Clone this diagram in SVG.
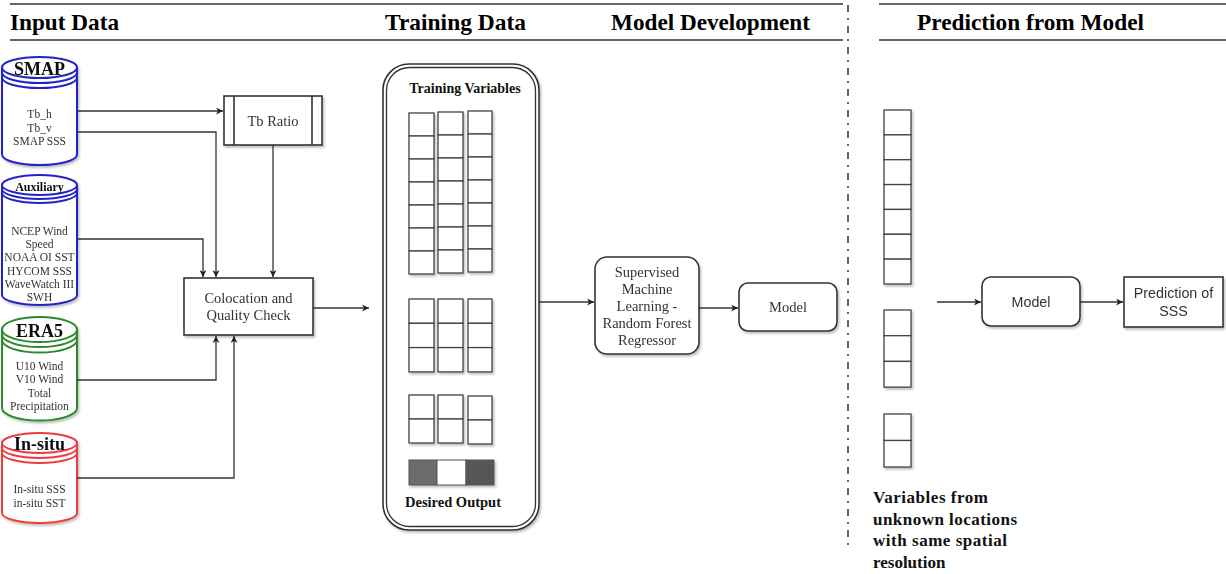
<svg xmlns="http://www.w3.org/2000/svg" width="1226" height="574" viewBox="0 0 1226 574">
<style>
.hdr{font-family:"Liberation Serif",serif;font-weight:bold;font-size:24px;fill:#000}
.cyl{fill:#fff;stroke-width:2}
.blue{stroke:#2323c8}
.green{stroke:#2b8a2b}
.red{stroke:#ef3b3b}
.arc{fill:none;stroke-width:2}
.ct{font-family:"Liberation Serif",serif;font-weight:bold;fill:#111;text-anchor:middle}
.bt{font-family:"Liberation Serif",serif;font-size:11.5px;fill:#333;text-anchor:middle}
.box{fill:#fff;stroke:#333;stroke-width:1.6}
.lbl{font-family:"Liberation Serif",serif;font-size:14.5px;fill:#333;text-anchor:middle}
.sans{font-family:"Liberation Sans",sans-serif;font-size:14.3px;fill:#333;text-anchor:middle}
.cell{fill:#fff;stroke:#444;stroke-width:1.3}
.conn{fill:none;stroke:#333;stroke-width:1.3}
.rule{stroke:#333;stroke-width:1.5}
.note{font-family:"Liberation Serif",serif;font-weight:bold;font-size:17px;fill:#111}
</style>
<defs>
<marker id="arr" viewBox="0 0 10 10" refX="10" refY="5" markerWidth="7" markerHeight="7" markerUnits="userSpaceOnUse" orient="auto">
<path d="M0,0 L10,5 L0,10 L3,5 Z" fill="#222"/>
</marker>
<filter id="sh" x="-10%" y="-10%" width="130%" height="130%">
<feDropShadow dx="1.5" dy="2" stdDeviation="1.2" flood-color="#000" flood-opacity="0.25"/>
</filter>
</defs>

<g id="headers">
<line class="rule" x1="10" y1="4" x2="843" y2="4"/>
<line class="rule" x1="10" y1="40" x2="843" y2="40"/>
<line class="rule" x1="879" y1="4" x2="1226" y2="4"/>
<line class="rule" x1="879" y1="40" x2="1226" y2="40"/>
<text class="hdr" x="10" y="30" textLength="109" lengthAdjust="spacingAndGlyphs">Input Data</text>
<text class="hdr" x="385" y="30" textLength="141" lengthAdjust="spacingAndGlyphs">Training Data</text>
<text class="hdr" x="611" y="30" textLength="199" lengthAdjust="spacingAndGlyphs">Model Development</text>
<text class="hdr" x="917" y="30" textLength="227" lengthAdjust="spacingAndGlyphs">Prediction from Model</text>
<line x1="848" y1="5" x2="848" y2="550" stroke="#333" stroke-width="1.5" stroke-dasharray="7 6 2 6"/>
</g>

<g id="smap" filter="url(#sh)">
<path class="cyl blue" d="M2,67.5 A37.5,10.5 0 0 1 77,67.5 V154.5 A37.5,10.5 0 0 1 2,154.5 Z"/>
<path class="arc blue" d="M2,67.5 A37.5,10.5 0 0 0 77,67.5 M2,72.5 A37.5,10.5 0 0 0 77,72.5 M2,77.5 A37.5,10.5 0 0 0 77,77.5"/>
<text class="ct" x="39.5" y="75" font-size="18">SMAP</text>
<text class="bt" x="39.5" y="118">Tb_h</text>
<text class="bt" x="39.5" y="131.5">Tb_v</text>
<text class="bt" x="39.5" y="145">SMAP SSS</text>
</g>

<g id="auxiliary" filter="url(#sh)">
<path class="cyl blue" d="M2,185 A37.5,10 0 0 1 77,185 V295 A37.5,10 0 0 1 2,295 Z"/>
<path class="arc blue" d="M2,185 A37.5,10 0 0 0 77,185 M2,189 A37.5,10 0 0 0 77,189 M2,193 A37.5,10 0 0 0 77,193"/>
<text class="ct" x="39.5" y="191" font-size="12">Auxiliary</text>
<text class="bt" x="39.5" y="235">NCEP Wind</text>
<text class="bt" x="39.5" y="248.2">Speed</text>
<text class="bt" x="39.5" y="261.4">NOAA OI SST</text>
<text class="bt" x="39.5" y="274.6">HYCOM SSS</text>
<text class="bt" x="39.5" y="287.8">WaveWatch III</text>
<text class="bt" x="39.5" y="301">SWH</text>
</g>

<g id="era5" filter="url(#sh)">
<path class="cyl green" d="M2,329.5 A37.5,12.5 0 0 1 77,329.5 V408 A37.5,12.5 0 0 1 2,408 Z"/>
<path class="arc green" d="M2,329.5 A37.5,12.5 0 0 0 77,329.5 M2,334.5 A37.5,12.5 0 0 0 77,334.5 M2,340 A37.5,12.5 0 0 0 77,340"/>
<text class="ct" x="39.5" y="337" font-size="18">ERA5</text>
<text class="bt" x="39.5" y="370">U10 Wind</text>
<text class="bt" x="39.5" y="383.3">V10 Wind</text>
<text class="bt" x="39.5" y="396.7">Total</text>
<text class="bt" x="39.5" y="410">Precipitation</text>
</g>

<g id="insitu" filter="url(#sh)">
<path class="cyl red" d="M2,443 A37.5,10 0 0 1 77,443 V513 A37.5,10 0 0 1 2,513 Z"/>
<path class="arc red" d="M2,443 A37.5,10 0 0 0 77,443 M2,448 A37.5,10 0 0 0 77,448 M2,453 A37.5,10 0 0 0 77,453"/>
<text class="ct" x="39.5" y="450" font-size="18">In-situ</text>
<text class="bt" x="39.5" y="493">In-situ SSS</text>
<text class="bt" x="39.5" y="507">in-situ SST</text>
</g>

<g id="tbratio" filter="url(#sh)">
<rect class="box" x="224" y="96" width="98" height="49"/>
<line class="box" x1="234" y1="96" x2="234" y2="145"/>
<line class="box" x1="312" y1="96" x2="312" y2="145"/>
<text class="lbl" x="273" y="126">Tb Ratio</text>
</g>

<g id="colocation" filter="url(#sh)">
<rect class="box" x="184" y="278" width="129" height="57"/>
<text class="lbl" x="248.5" y="303">Colocation and</text>
<text class="lbl" x="248.5" y="320">Quality Check</text>
</g>

<g id="training">
<rect x="383" y="64" width="156" height="466" rx="26" fill="#fff" stroke="#333" stroke-width="1.6" filter="url(#sh)"/>
<rect x="386.5" y="67.5" width="149" height="459" rx="23" fill="none" stroke="#333" stroke-width="1.3"/>
<text class="ct" x="465" y="93" font-size="14">Training Variables</text>
<g filter="url(#sh)">
<rect class="cell" x="409" y="113" width="25" height="23"/><rect class="cell" x="409" y="136" width="25" height="23"/><rect class="cell" x="409" y="159" width="25" height="23"/><rect class="cell" x="409" y="182" width="25" height="23"/><rect class="cell" x="409" y="205" width="25" height="23"/><rect class="cell" x="409" y="228" width="25" height="23"/><rect class="cell" x="409" y="251" width="25" height="23"/>
<rect class="cell" x="438" y="112" width="25" height="23"/><rect class="cell" x="438" y="135" width="25" height="23"/><rect class="cell" x="438" y="158" width="25" height="23"/><rect class="cell" x="438" y="181" width="25" height="23"/><rect class="cell" x="438" y="204" width="25" height="23"/><rect class="cell" x="438" y="227" width="25" height="23"/><rect class="cell" x="438" y="250" width="25" height="23"/>
<rect class="cell" x="468" y="111" width="24" height="23"/><rect class="cell" x="468" y="134" width="24" height="23"/><rect class="cell" x="468" y="157" width="24" height="23"/><rect class="cell" x="468" y="180" width="24" height="23"/><rect class="cell" x="468" y="203" width="24" height="23"/><rect class="cell" x="468" y="226" width="24" height="23"/><rect class="cell" x="468" y="249" width="24" height="23"/>
<rect class="cell" x="409" y="299" width="25" height="24.3"/><rect class="cell" x="409" y="323.3" width="25" height="24.3"/><rect class="cell" x="409" y="347.6" width="25" height="24.3"/>
<rect class="cell" x="438" y="299" width="25" height="24.3"/><rect class="cell" x="438" y="323.3" width="25" height="24.3"/><rect class="cell" x="438" y="347.6" width="25" height="24.3"/>
<rect class="cell" x="468" y="299" width="24" height="24.3"/><rect class="cell" x="468" y="323.3" width="24" height="24.3"/><rect class="cell" x="468" y="347.6" width="24" height="24.3"/>
<rect class="cell" x="409" y="395" width="25" height="24"/><rect class="cell" x="409" y="419" width="25" height="24"/>
<rect class="cell" x="438" y="395" width="25" height="24"/><rect class="cell" x="438" y="419" width="25" height="24"/>
<rect class="cell" x="468" y="396" width="24" height="24"/><rect class="cell" x="468" y="420" width="24" height="24"/>
<rect x="409" y="460" width="28" height="25" fill="#6c6c6c" stroke="#555" stroke-width="1"/>
<rect x="437" y="460" width="29" height="25" fill="#fff" stroke="#555" stroke-width="1"/>
<rect x="466" y="460" width="28" height="25" fill="#575757" stroke="#555" stroke-width="1"/>
</g>
<text class="ct" x="453" y="507" font-size="14.5">Desired Output</text>
</g>

<g id="supervised" filter="url(#sh)">
<rect class="box" x="595" y="257" width="104" height="97" rx="12"/>
<text class="lbl" x="647" y="277">Supervised</text>
<text class="lbl" x="647" y="294">Machine</text>
<text class="lbl" x="647" y="311">Learning -</text>
<text class="lbl" x="647" y="328">Random Forest</text>
<text class="lbl" x="647" y="345">Regressor</text>
</g>

<g id="model1" filter="url(#sh)">
<rect class="box" x="739" y="283" width="98" height="48" rx="9"/>
<text class="lbl" x="788" y="312">Model</text>
</g>

<g id="unknownvars" filter="url(#sh)">
<rect class="cell" x="884" y="110" width="27" height="24.86"/><rect class="cell" x="884" y="134.86" width="27" height="24.86"/><rect class="cell" x="884" y="159.71" width="27" height="24.86"/><rect class="cell" x="884" y="184.57" width="27" height="24.86"/><rect class="cell" x="884" y="209.43" width="27" height="24.86"/><rect class="cell" x="884" y="234.29" width="27" height="24.86"/><rect class="cell" x="884" y="259.14" width="27" height="24.86"/>
<rect class="cell" x="884" y="310" width="27" height="25.7"/><rect class="cell" x="884" y="335.7" width="27" height="25.7"/><rect class="cell" x="884" y="361.4" width="27" height="25.7"/>
<rect class="cell" x="884" y="414" width="27" height="26.5"/><rect class="cell" x="884" y="440.5" width="27" height="26.5"/>
</g>
<g id="unknownlabel">
<text class="note" x="873" y="503" textLength="115" lengthAdjust="spacing">Variables from</text>
<text class="note" x="873" y="524.5" textLength="144" lengthAdjust="spacing">unknown locations</text>
<text class="note" x="873" y="546" textLength="134" lengthAdjust="spacing">with same spatial</text>
<text class="note" x="873" y="567.5">resolution</text>
</g>

<g id="model2" filter="url(#sh)">
<rect class="box" x="982" y="277" width="98" height="49" rx="9"/>
<text class="sans" x="1031" y="307">Model</text>
</g>

<g id="prediction" filter="url(#sh)">
<rect class="box" x="1124" y="277" width="99" height="50"/>
<text class="sans" x="1173.5" y="298">Prediction of</text>
<text class="sans" x="1173.5" y="316">SSS</text>
</g>

<g id="connectors">
<path class="conn" d="M77,111 H223" marker-end="url(#arr)"/>
<path class="conn" d="M77,132 H216 V277" marker-end="url(#arr)"/>
<path class="conn" d="M77,239 H203 V277" marker-end="url(#arr)"/>
<path class="conn" d="M273,145 V277" marker-end="url(#arr)"/>
<path class="conn" d="M77,380 H216 V336" marker-end="url(#arr)"/>
<path class="conn" d="M77,478 H234 V336" marker-end="url(#arr)"/>
<path class="conn" d="M313,308 H369" marker-end="url(#arr)"/>
<path class="conn" d="M539,302 H594" marker-end="url(#arr)"/>
<path class="conn" d="M699,308 H738" marker-end="url(#arr)"/>
<path class="conn" d="M937,302 H981" marker-end="url(#arr)"/>
<path class="conn" d="M1080,302 H1123" marker-end="url(#arr)"/>
</g>
</svg>
